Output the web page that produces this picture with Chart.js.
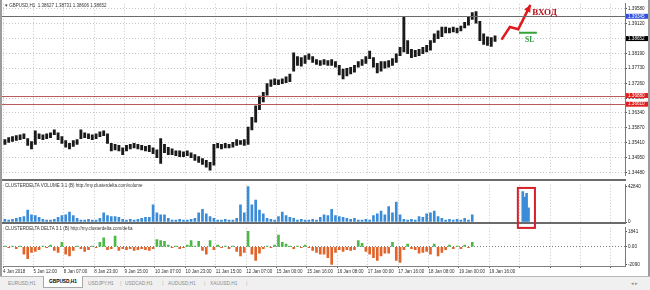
<!DOCTYPE html>
<html>
<head>
<meta charset="utf-8">
<script src="https://cdn.jsdelivr.net/npm/chart.js@4.4.1/dist/chart.umd.min.js"></script>
<style>
  html, body { margin: 0; padding: 0; background: #fff; }
  body { width: 650px; height: 290px; position: relative; overflow: hidden; font-family: "Liberation Sans", Arial, sans-serif; }
  canvas { position: absolute; left: 0; }
  #price { top: 0; z-index: 1; }
  #volume { top: 181px; z-index: 3; }
  #delta { top: 224px; z-index: 1; }
  .sep { position: absolute; left: 0; width: 626px; height: 2px; background: #6b6b6b; z-index: 2; }
  .edge { position: absolute; top: 0; width: 2px; height: 276px; background: #9c9c9c; z-index: 4; }
  .lbl { position: absolute; left: 5px; font-size: 4.5px; color: #333; white-space: nowrap; z-index: 4; }
  #tabbar { position: absolute; top: 276px; left: 0; width: 650px; height: 14px; background: #f0f0f0; border-top: 1px solid #b8b8b8; z-index: 4; }
  .tab { position: absolute; top: 4px; font-size: 4.8px; color: #8a8a8a; white-space: nowrap; }
  .tab.active { top: -1px; height: 11px; line-height: 11px; padding: 0 5px; background: #fff; border: 1px solid #a8a8a8; border-top: none; color: #000; font-weight: bold; }
  .bar { position: absolute; top: 3px; font-size: 6px; color: #c0c0c0; }
</style>
</head>
<body>
<canvas id="price" width="650" height="179"></canvas>
<canvas id="volume" width="650" height="50"></canvas>
<canvas id="delta" width="650" height="52"></canvas>

<div class="sep" style="top:179px"></div>
<div class="sep" style="top:222px"></div>
<div class="edge" style="left:0"></div>
<div class="edge" style="left:648px"></div>

<div class="lbl" style="top:3px">&#9662; GBPUSD,H1&nbsp; 1.38627 1.38731 1.38606 1.38652</div>
<div class="lbl" style="top:183px">CLUSTERDELTA VOLUME 3.1 (B) http://my.clusterdelta.com/volume</div>
<div class="lbl" style="top:226px">CLUSTERDELTA DELTA 3.1 (B) http://my.clusterdelta.com/delta</div>

<div id="tabbar">
  <span class="tab" style="left:8px">EURUSD,H1</span>
  <span class="tab active" style="left:43px">GBPUSD,H1</span>
  <span class="tab" style="left:88px">USDJPY,H1</span>
  <span class="bar" style="left:120px">|</span>
  <span class="tab" style="left:125px">USDCAD,H1</span>
  <span class="bar" style="left:162px">|</span>
  <span class="tab" style="left:168px">AUDUSD,H1</span>
  <span class="bar" style="left:204px">|</span>
  <span class="tab" style="left:210px">XAUUSD,H1</span>
  <span class="bar" style="left:246px">|</span>
  <span class="tab" style="left:631px">&#9666; &#9656;</span>
</div>

<script>
// --- data (one bar = 2 hours, GBPUSD H1 squeezed) ---
const timeLabels = ['4 Jan 2018', '5 Jan 12:00', '8 Jan 07:00', '8 Jan 23:00', '9 Jan 15:00', '10 Jan 07:00',
  '10 Jan 23:00', '11 Jan 15:00', '12 Jan 07:00', '15 Jan 00:00', '15 Jan 16:00', '16 Jan 08:00',
  '17 Jan 00:00', '17 Jan 16:00', '18 Jan 08:00', '19 Jan 00:00', '19 Jan 16:00'];
const barsPerLabel = 8;

const highs = [
  1.3551, 1.3557, 1.3560, 1.3563, 1.3566, 1.3569, 1.3554, 1.3545, 1.3578, 1.3569,
  1.3566, 1.3569, 1.3572, 1.3581, 1.3572, 1.3560, 1.3548, 1.3539, 1.3548, 1.3551,
  1.3581, 1.3572, 1.3569, 1.3566, 1.3569, 1.3575, 1.3578, 1.3569, 1.3539, 1.3536,
  1.3533, 1.3525, 1.3533, 1.3536, 1.3539, 1.3536, 1.3533, 1.3530, 1.3533, 1.3525,
  1.3519, 1.3554, 1.3536, 1.3527, 1.3522, 1.3516, 1.3516, 1.3513, 1.3516, 1.3510,
  1.3504, 1.3498, 1.3492, 1.3486, 1.3480, 1.3536, 1.3539, 1.3536, 1.3539, 1.3536,
  1.3542, 1.3551, 1.3548, 1.3551, 1.3590, 1.3620, 1.3656, 1.3686, 1.3698, 1.3725,
  1.3737, 1.3740, 1.3737, 1.3740, 1.3746, 1.3755, 1.3821, 1.3809, 1.3806, 1.3812,
  1.3818, 1.3809, 1.3800, 1.3797, 1.3800, 1.3797, 1.3800, 1.3794, 1.3782, 1.3770,
  1.3773, 1.3776, 1.3782, 1.3794, 1.3800, 1.3809, 1.3826, 1.3806, 1.3788, 1.3794,
  1.3794, 1.3797, 1.3803, 1.3818, 1.3838, 1.3931, 1.3859, 1.3832, 1.3829, 1.3832,
  1.3838, 1.3844, 1.3859, 1.3880, 1.3889, 1.3901, 1.3901, 1.3898, 1.3901, 1.3898,
  1.3904, 1.3916, 1.3931, 1.3946, 1.3949, 1.3919, 1.3880, 1.3871, 1.3868, 1.3874
];
const lows = [
  1.3536, 1.3542, 1.3545, 1.3548, 1.3551, 1.3554, 1.3533, 1.3522, 1.3536, 1.3554,
  1.3551, 1.3554, 1.3557, 1.3566, 1.3551, 1.3539, 1.3527, 1.3522, 1.3530, 1.3536,
  1.3554, 1.3557, 1.3554, 1.3551, 1.3554, 1.3560, 1.3563, 1.3539, 1.3516, 1.3519,
  1.3516, 1.3504, 1.3516, 1.3522, 1.3525, 1.3522, 1.3519, 1.3516, 1.3513, 1.3507,
  1.3495, 1.3477, 1.3510, 1.3504, 1.3504, 1.3501, 1.3498, 1.3498, 1.3501, 1.3495,
  1.3486, 1.3480, 1.3474, 1.3465, 1.3456, 1.3471, 1.3525, 1.3522, 1.3525, 1.3525,
  1.3527, 1.3533, 1.3536, 1.3533, 1.3536, 1.3581, 1.3605, 1.3644, 1.3668, 1.3689,
  1.3716, 1.3722, 1.3722, 1.3725, 1.3728, 1.3731, 1.3764, 1.3782, 1.3779, 1.3788,
  1.3800, 1.3791, 1.3785, 1.3782, 1.3785, 1.3782, 1.3782, 1.3776, 1.3752, 1.3740,
  1.3749, 1.3755, 1.3761, 1.3776, 1.3782, 1.3788, 1.3803, 1.3776, 1.3758, 1.3764,
  1.3773, 1.3776, 1.3782, 1.3791, 1.3812, 1.3824, 1.3818, 1.3806, 1.3809, 1.3812,
  1.3818, 1.3824, 1.3829, 1.3853, 1.3865, 1.3871, 1.3883, 1.3883, 1.3886, 1.3883,
  1.3889, 1.3898, 1.3907, 1.3925, 1.3913, 1.3859, 1.3847, 1.3844, 1.3841, 1.3856
];

const volume = [
  3300, 2200, 3300, 4400, 5500, 6600, 14300, 8800, 7700, 5500,
  3300, 2200, 2200, 3300, 5500, 7700, 8800, 12100, 7700, 4400,
  2200, 2200, 3300, 2200, 2200, 4400, 11000, 7700, 6600, 6600,
  5500, 3300, 2200, 3300, 2200, 3300, 4400, 5500, 5500, 20900,
  11000, 8800, 8800, 4400, 2200, 2200, 3300, 2200, 2200, 3300,
  4400, 11000, 15400, 9900, 6600, 4400, 2200, 2200, 3300, 2200,
  2200, 4400, 20900, 11000, 42840, 20900, 26400, 14300, 9900, 4400,
  3300, 2200, 6600, 12100, 7700, 5500, 4400, 2200, 3300, 2200,
  2200, 3300, 2200, 5500, 8800, 7700, 15400, 7700, 6600, 5500,
  4400, 3300, 4400, 2200, 2200, 3300, 2200, 7700, 9900, 13200,
  8800, 18700, 11000, 24200, 8800, 3300, 2200, 3300, 2200, 6600,
  5500, 9900, 11000, 13200, 6600, 4400, 2200, 3300, 2200, 3300,
  2200, 4400, 2200, 8800
];

const delta = [
  108, -108, 108, -216, 108, -864, -1404, -648, -540, -324,
  108, -108, 216, -432, -648, 540, -864, -1080, -432, 108,
  -216, -540, -324, 108, -108, 540, 1080, -324, -216, 1296,
  -432, -216, -324, -216, -432, -324, -216, -324, -432, -216,
  864, 756, 648, 216, -108, 108, -216, -108, 216, 756,
  108, 648, -432, -864, 756, -324, 216, -108, 108, -216,
  108, -540, -1080, -648, 1841, -864, -1620, -756, -216, 108,
  -108, 216, 1404, 540, 324, 108, -216, 108, -108, 216,
  -108, -432, -648, -864, -864, -1296, -2090, -648, -324, -540,
  -324, -432, -324, 756, 432, -540, -864, -1296, -1620, -1080,
  -756, -756, 540, -1620, -1836, -324, 324, -216, -324, -756,
  -648, -540, -864, 324, -1080, -648, -324, 216, -216, 108,
  -216, 216, -108, 540
];

const priceTicks = [1.39580, 1.39120, 1.38650, 1.38190, 1.37730, 1.37260, 1.36800, 1.36340, 1.35870, 1.35410, 1.34950, 1.34480];
const volTicks = [0, 42840];
const deltaTicks = [-2090, 0, 1841];

const levelPrices = [1.39345, 1.36880, 1.36610];
const bidPrice = 1.38652;

// hand drawn marks, in bar index / value units
const arrowX = [130.7, 132.9, 135.1, 138.3];
const arrowY = [1.3862, 1.3901, 1.3894, 1.3970];
const slX = [135.3, 140.0];
const slPrice = 1.3883;
const entryLabelAt = [138.8, 1.3940];
const slLabelAt = [138.1, 1.3855];
const boxX = [135.0, 139.5];
const boxV = [41200, -7140];
const boxBarX = [136.3, 136.8, 137.3, 137.8];
const boxBarV = [36800, 30200, 34600, 17000];

// --- chart setup ---
const FONT = 'Liberation Sans';
const xMin = -0.5, xMax = 163.2;
const gridTicks = [];
for (let k = 0; k * barsPerLabel - 0.5 <= xMax; k++) gridTicks.push(k * barsPerLabel - 0.5);

function xScale(showLabels) {
  return {
    type: 'linear', min: xMin, max: xMax, offset: false,
    afterBuildTicks: s => { s.ticks = gridTicks.map(v => ({ value: v })); },
    afterFit: s => { s.height = showLabels ? 10 : 0; },
    ticks: {
      display: showLabels, autoSkip: false, maxRotation: 0, align: 'start', padding: 1,
      font: { family: FONT, size: 4.5 }, color: '#333',
      callback: (v, i) => timeLabels[i] || ''
    },
    grid: { offset: false, color: '#c6c6c6', drawTicks: showLabels, tickLength: 2, tickColor: '#666' },
    border: { display: showLabels, color: '#808080', dash: [1, 2] }
  };
}

function yScale(min, max, ticks, fmt, extra) {
  return Object.assign({
    position: 'right', min, max,
    afterBuildTicks: s => { s.ticks = ticks.map(v => ({ value: v })); },
    afterFit: s => { s.width = 25; },
    ticks: { font: { family: FONT, size: 4.6 }, color: '#222', padding: 1, callback: fmt },
    grid: { color: '#c6c6c6', tickLength: 2, tickColor: '#555' },
    border: { display: true, color: '#7a7a7a', dash: [1, 2] }
  }, extra || {});
}

function baseOptions(scales, padding) {
  return {
    responsive: false, animation: false, events: [],
    layout: { padding: Object.assign({ left: 3, right: 0, top: 0, bottom: 0 }, padding || {}) },
    plugins: { legend: { display: false }, tooltip: { enabled: false } },
    scales
  };
}

const priceMarks = {
  id: 'priceMarks',
  afterDatasetsDraw(chart) {
    const { ctx, chartArea: a, scales: { x, y } } = chart;
    ctx.save();
    levelPrices.forEach((p, i) => {
      const py = Math.round(y.getPixelForValue(p)) + 0.5;
      ctx.strokeStyle = i === 0 ? '#6b6b6b' : '#b85a5a';
      ctx.lineWidth = 1;
      ctx.beginPath(); ctx.moveTo(0, py); ctx.lineTo(a.right, py); ctx.stroke();
    });

    const n = arrowX.length;
    const x1 = x.getPixelForValue(arrowX[n - 2]), y1 = y.getPixelForValue(arrowY[n - 2]);
    const x2 = x.getPixelForValue(arrowX[n - 1]), y2 = y.getPixelForValue(arrowY[n - 1]);
    const ang = Math.atan2(y2 - y1, x2 - x1), c = Math.cos(ang), s = Math.sin(ang);
    ctx.fillStyle = '#e3171d';
    ctx.beginPath();
    ctx.moveTo(x2, y2);
    ctx.lineTo(x2 - 7 * c + 3.5 * s, y2 - 7 * s - 3.5 * c);
    ctx.lineTo(x2 - 7 * c - 3.5 * s, y2 - 7 * s + 3.5 * c);
    ctx.closePath(); ctx.fill();

    ctx.font = 'bold 9px "Liberation Serif"';
    ctx.fillStyle = '#b3121c';
    ctx.fillText('ВХОД', x.getPixelForValue(entryLabelAt[0]), y.getPixelForValue(entryLabelAt[1]));
    ctx.font = 'bold 7.5px "Liberation Serif"';
    ctx.fillStyle = '#2f9a3a';
    ctx.textAlign = 'center';
    ctx.fillText('SL', x.getPixelForValue(slLabelAt[0]), y.getPixelForValue(slLabelAt[1]));
    ctx.restore();
  },
  afterDraw(chart) {
    const { ctx, chartArea: a, scales: { y } } = chart;
    const boxes = [[levelPrices[0], '#2f4fe0'], [bidPrice, '#000'], [levelPrices[1], '#e01f1f'], [levelPrices[2], '#e01f1f']];
    ctx.save();
    ctx.font = '4.6px "Liberation Sans"';
    ctx.textBaseline = 'middle';
    boxes.forEach(([p, col]) => {
      const py = y.getPixelForValue(p);
      ctx.fillStyle = col;
      ctx.fillRect(a.right + 1, py - 2.5, 22, 5);
      ctx.fillStyle = '#fff';
      ctx.fillText(p.toFixed(5), a.right + 3, py);
    });
    ctx.restore();
  }
};

new Chart(document.getElementById('price'), {
  type: 'bar',
  data: {
    datasets: [
      { data: highs.map((h, i) => ({ x: i, y: [lows[i], h] })), backgroundColor: '#1a1a1a', barThickness: 2.2, grouped: false, order: 2 },
      { type: 'line', data: arrowX.map((v, i) => ({ x: v, y: arrowY[i] })), borderColor: '#e3171d', borderWidth: 2.5, pointRadius: 0, order: 1 },
      { type: 'line', data: slX.map(v => ({ x: v, y: slPrice })), borderColor: '#33a335', borderWidth: 2, pointRadius: 0, order: 1 }
    ]
  },
  options: baseOptions({
    x: xScale(false),
    y: yScale(1.34400, 1.39735, priceTicks, v => v.toFixed(5))
  }),
  plugins: [priceMarks]
});

const volumeBox = {
  id: 'volumeBox',
  afterDatasetsDraw(chart) {
    const { ctx, scales: { x, y } } = chart;
    const l = x.getPixelForValue(boxX[0]), r = x.getPixelForValue(boxX[1]);
    const t = y.getPixelForValue(boxV[0]), b = y.getPixelForValue(boxV[1]);
    ctx.save();
    ctx.strokeStyle = '#d6202a';
    ctx.lineWidth = 2;
    ctx.strokeRect(l, t, r - l, b - t);
    ctx.restore();
  }
};

new Chart(document.getElementById('volume'), {
  type: 'bar',
  data: {
    datasets: [
      { data: volume.map((v, i) => ({ x: i, y: v })), backgroundColor: '#3a8cd8', barThickness: 2, grouped: false },
      { data: boxBarX.map((v, i) => ({ x: v, y: boxBarV[i] })), backgroundColor: '#3a8cd8', barThickness: 2, grouped: false }
    ]
  },
  options: baseOptions({
    x: xScale(false),
    y: yScale(0, 45040, volTicks, v => String(v), {
      grid: { drawOnChartArea: false, tickLength: 2, tickColor: '#555' }
    })
  }, { bottom: 9 }),
  plugins: [volumeBox]
});

new Chart(document.getElementById('delta'), {
  type: 'bar',
  data: {
    datasets: [
      { data: delta.map((v, i) => ({ x: i, y: v })), backgroundColor: delta.map(v => v >= 0 ? '#4cb848' : '#e2642a'), barThickness: 2, grouped: false }
    ]
  },
  options: baseOptions({
    x: xScale(true),
    y: yScale(-2274, 2274, deltaTicks, v => v === 0 ? '0.00' : String(v), {
      grid: { color: c => c.tick && c.tick.value === 0 ? '#7d7d7d' : 'rgba(0,0,0,0)', tickLength: 2, tickColor: '#555' }
    })
  })
});
</script>
</body>
</html>
